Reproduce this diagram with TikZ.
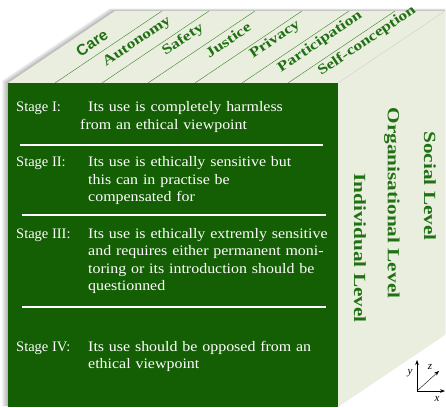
\documentclass[tikz,border=0pt]{standalone}
\usepackage{fontspec}
\setmainfont{Liberation Serif}
\setsansfont{Liberation Sans}
\newfontfamily\wideserif[FakeStretch=1.25]{Liberation Serif}
\newfontfamily\bodyserif[FakeStretch=1.1]{Liberation Serif}
\usetikzlibrary{arrows.meta}

\definecolor{facegreen}{RGB}{20,94,4}
\definecolor{labelgreen}{RGB}{32,112,20}
\definecolor{facelight}{RGB}{234,238,222}
\definecolor{stripline}{RGB}{60,132,40}

\tikzset{
    stagelab/.style={anchor=base west, inner sep=0pt, text=white,
        font=\fontsize{14.5}{17.5}\selectfont},
    stagetxt/.style={stagelab, text width=270pt, align=left,
        font=\bodyserif\fontsize{14.5}{17.5}\selectfont},
    value/.style={rotate=34, inner sep=0pt, text=labelgreen,
        font=\wideserif\fontsize{14}{15}\selectfont\bfseries},
    level/.style={rotate=-90, inner sep=0pt, text=labelgreen,
        font=\wideserif\fontsize{17}{18}\selectfont\bfseries},
    axislab/.style={inner sep=0pt, font=\fontsize{11}{12}\selectfont\itshape}
}

\begin{document}
\begin{tikzpicture}[x=1pt,y=1pt]
        \useasboundingbox (0,0) rectangle (446,407);

        % soft shadow round the block
        \foreach \s in {1,...,6}
            \fill[black,opacity=0.05]
                (8-\s,1) -- (8-\s,324+0.4*\s) -- (115-\s,396+0.4*\s)
                -- (445,396+0.4*\s) -- (445,73) -- (338,1) -- cycle;

        % the three faces
        \fill[facegreen] (8,0) rectangle (338,324);
        \fill[facelight] (8,324) -- (338,324) -- (445,396) -- (115,396) -- cycle;
        \fill[facelight] (338,324) -- (445,396) -- (445,72) -- (338,0) -- cycle;
        \draw[gray!35] (338,324) -- (445,396);

        % strips on the top face
        \draw[stripline] (55,324) -- (162,396);
        \draw[stripline] (102,324) -- (209,396);
        \draw[stripline] (148,324) -- (255,396);
        \draw[stripline] (195,324) -- (302,396);
        \draw[stripline] (242,324) -- (349,396);
        \draw[stripline] (288,324) -- (395,396);

        \node[value, font=\fontsize{15.5}{15}\selectfont\sffamily\bfseries] (care) at (92,364) {Care};
        \node[value] (autonomy) at (137,365) {Autonomy};
        \node[value] (safety) at (183,367) {Safety};
        \node[value] (justice) at (228,367) {Justice};
        \node[value] (privacy) at (275,367) {Privacy};
        \node[value] (participation) at (320,365) {Participation};
        \node[value] (selfconc) at (367,366) {Self-conception};

        % levels on the side face
        \node[level] (social) at (430,221) {Social Level};
        \node[level] (organisational) at (392,204) {Organisational Level};
        \node[level] (individual) at (360,159) {Individual Level};

        % stages on the front face
        \node[stagelab] (s1lab) at (16,295) {Stage I:};
        \node[stagetxt] (s1txt) at (80,295)
            {\hspace*{8pt}Its use is completely harmless\\ from an ethical viewpoint};
        \draw[white, line width=2.4pt] (20,262) -- (323,262);

        \node[stagelab] (s2lab) at (16,240) {Stage II:};
        \node[stagetxt] (s2txt) at (88,240)
            {Its use is ethically sensitive but\\ this can in practise be\\ compensated for};
        \draw[white, line width=2.4pt] (22,192) -- (326,192);

        \node[stagelab] (s3lab) at (16,169) {Stage III:};
        \node[stagetxt] (s3txt) at (88,169)
            {Its use is ethically extremly sensitive\\ and requires either permanent moni-\\
             toring or its introduction should be\\ questionned};
        \draw[white, line width=2.4pt] (22,100) -- (326,100);

        \node[stagelab] (s4lab) at (16,56) {Stage IV:};
        \node[stagetxt] (s4txt) at (88,56)
            {Its use should be opposed from an\\ ethical viewpoint};

        % axes
        \coordinate (axo) at (417,16);
        \coordinate (axx) at (445,16);
        \coordinate (axy) at (417,47);
        \coordinate (axz) at (439,36);
        \draw[-{Stealth[length=5pt]}, thick] (axo) -- (axx);
        \draw[-{Stealth[length=5pt]}, thick] (axo) -- (axy);
        \draw[-{Stealth[length=5pt]}] (axo) -- (axz);
        \node[axislab] (xlab) at (437,8) {x};
        \node[axislab] (ylab) at (410,34) {y};
        \node[axislab] (zlab) at (430,40) {z};
\end{tikzpicture}
\end{document}
